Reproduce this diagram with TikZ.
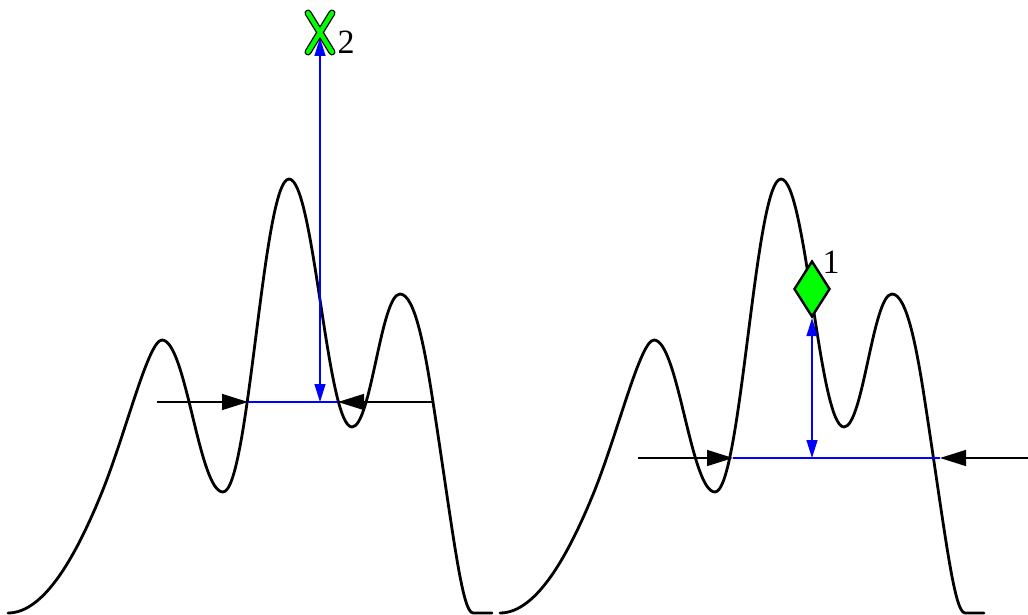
\documentclass[tikz,border=0pt]{standalone}
\usepackage{fontspec}
\setmainfont{Liberation Serif}
\usetikzlibrary{arrows.meta,shapes.geometric}
\definecolor{mkgreen}{RGB}{0,255,0}
\begin{document}
\begin{tikzpicture}[x=1pt,y=-1pt,
  curve/.style={line width=2.8pt, line join=round, line cap=round},
  blk/.style={line width=1.4pt, -{Triangle[length=26pt,width=16pt]}},
  blu/.style={blue, line width=1.4pt},
  bluarr/.style={blue, line width=1.4pt, {Triangle[length=18pt,width=11pt]}-{Triangle[length=18pt,width=11pt]}},
  lbl/.style={font=\fontsize{34}{40}\selectfont, inner sep=0pt},
  xout/.style={line width=7pt, line cap=round, black},
  xin/.style={line width=4.4pt, line cap=round, mkgreen},
  dmd/.style={diamond, draw, fill=mkgreen, line width=2.4pt, minimum width=36pt, minimum height=56pt, inner sep=0pt},
  pulse/.pic={
    \draw[curve] (8,613) .. controls (46,613) and (78,550) .. (100,497)
      .. controls (125,437) and (148,340) .. (162,340)
      .. controls (186,340) and (199,492) .. (223,492)
      .. controls (249,492) and (263,179) .. (289,179)
      .. controls (314,179) and (327,427) .. (352,427)
      .. controls (371,427) and (381,294) .. (400,294)
      .. controls (415,294) and (425,350) .. (433,402)
      .. controls (453,532) and (462,613) .. (473,613) -- (492,613);
  }
]
\useasboundingbox (0,0) rectangle (1028,615);

% curves
\pic at (0,0) {pulse};
\pic at (492,0) {pulse};

% left group
\coordinate (la) at (157,402);
\coordinate (lb) at (248,402);
\coordinate (lc) at (320,402);
\coordinate (ld) at (338,402);
\coordinate (le) at (433,402);
\coordinate (xtl) at (308,13);
\coordinate (xbr) at (332,52);
\coordinate (xtr) at (332,13);
\coordinate (xbl) at (308,52);
\coordinate (xtip) at (320,38);
\draw[xout] (xtl) -- (xbr) (xtr) -- (xbl);
\draw[xin] (xtl) -- (xbr) (xtr) -- (xbl);
\node[lbl] (n2) at (346,42) {2};
\draw[blk] (la) -- (lb);
\draw[blu] (lb) -- (ld);
\draw[blk] (le) -- (ld);
\draw[bluarr] (lc) -- (xtip);

% right group
\coordinate (ra) at (638,458);
\coordinate (rb) at (733,458);
\coordinate (rc) at (812,458);
\coordinate (rd) at (940,458);
\coordinate (re) at (1028,458);
\node[dmd] (d1) at (812,289) {};
\node[lbl] (n1) at (831,262) {1};
\draw[blk] (ra) -- (rb);
\draw[blu] (rb) -- (rd);
\draw[blk] (re) -- (rd);
\draw[bluarr] (rc) -- (d1.south);
\end{tikzpicture}
\end{document}
